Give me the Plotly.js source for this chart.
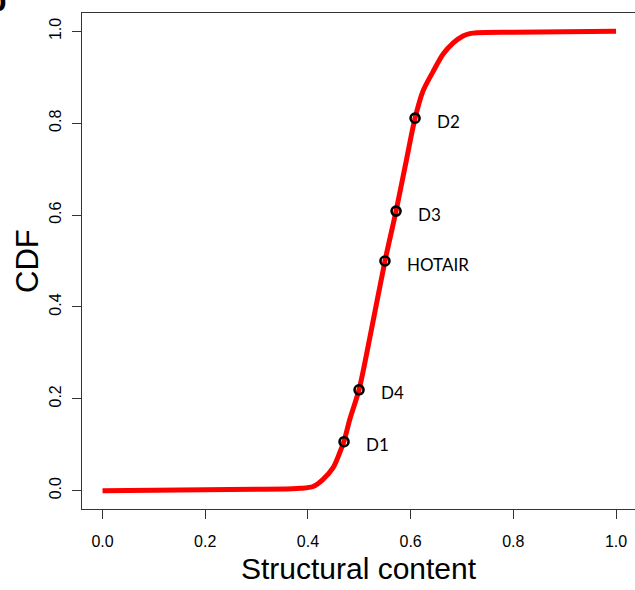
<!DOCTYPE html>
<html>
<head>
<meta charset="utf-8">
<script src="https://cdn.plot.ly/plotly-3.0.1.min.js"></script>
<style>html,body{margin:0;padding:0;background:#fff;}</style>
</head>
<body>
<div id="chart" style="width:635px;height:590px;"></div>
<script>
// CDF curve of structural content
const curveX = [0, 0.1, 0.2, 0.3, 0.37, 0.385, 0.41, 0.429, 0.449, 0.462, 0.470, 0.482, 0.4995, 0.52, 0.55, 0.5716, 0.59, 0.6086, 0.624, 0.644, 0.663, 0.683, 0.702, 0.715, 0.729, 0.8, 0.9, 1.0];
const curveY = [0, 0.001, 0.002, 0.003, 0.004, 0.005, 0.009, 0.024, 0.050, 0.083, 0.107, 0.157, 0.22, 0.33, 0.5, 0.609, 0.71, 0.811, 0.870, 0.913, 0.950, 0.975, 0.990, 0.995, 0.997, 0.998, 0.999, 1.0];

// highlighted RNAs
const pointNames = ["D2", "D3", "HOTAIR", "D4", "D1"];
const pointX = [0.6086, 0.5716, 0.550, 0.4995, 0.4703];
const pointY = [0.811, 0.6087, 0.5, 0.2196, 0.1065];

const xTicks = [0, 0.2, 0.4, 0.6, 0.8, 1.0];
const xTickText = ["0.0", "0.2", "0.4", "0.6", "0.8", "1.0"];
const yTicks = [0, 0.2, 0.4, 0.6, 0.8, 1.0];
const yTickText = ["0.0", "0.2", "0.4", "0.6", "0.8", "1.0"];

const xTitle = "Structural content";
const yTitle = "CDF";

const traces = [
  {
    x: curveX, y: curveY, type: "scatter", mode: "lines",
    line: {color: "#ff0000", width: 5, shape: "spline", smoothing: 0.8},
    hoverinfo: "skip", showlegend: false
  },
  {
    x: pointX, y: pointY, type: "scatter", mode: "markers",
    marker: {symbol: "circle-open", size: 9, color: "#000000", line: {width: 2.6, color: "#000000"}},
    text: pointNames, showlegend: false
  }
];

const annotations = pointNames.map((n, i) => ({
  x: pointX[i], y: pointY[i], xref: "x", yref: "y",
  text: n, showarrow: false, xanchor: "left", yanchor: "middle",
  xshift: 20, yshift: -3,
  font: {family: "Lato, 'Open Sans', sans-serif", size: 17, color: "#000"}
}));

// y axis title
annotations.push({
  xref: "paper", yref: "paper", x: -0.0995, y: 0.5, xanchor: "center", yanchor: "middle",
  textangle: -90, text: yTitle, showarrow: false,
  font: {family: "Liberation Sans, Arial, sans-serif", size: 31, color: "#000"}
});

// panel letter (cut off at the top-left corner)
annotations.push({
  xref: "paper", yref: "paper", x: -0.132, y: 1.0, xanchor: "right", yanchor: "bottom",
  yshift: -7,
  text: "<b>b</b>", showarrow: false,
  font: {family: "Liberation Sans, Arial, sans-serif", size: 32, color: "#000"}
});

const axisCommon = {
  showgrid: false, zeroline: false, showline: true, linecolor: "#333", linewidth: 1,
  ticks: "outside", ticklen: 9, tickcolor: "#333", tickwidth: 1,
  tickfont: {family: "Liberation Sans, Arial, sans-serif", size: 16, color: "#000"}
};

const layout = {
  width: 635, height: 590,
  margin: {l: 82, r: 0, t: 13, b: 81},
  paper_bgcolor: "#fff", plot_bgcolor: "#fff",
  xaxis: Object.assign({}, axisCommon, {
    range: [-0.04, 1.0369], mirror: true,
    tickvals: xTicks, ticktext: xTickText, ticklabelstandoff: 9,
    title: {text: xTitle, standoff: 8,
      font: {family: "Liberation Sans, Arial, sans-serif", size: 30, color: "#000"}}
  }),
  yaxis: Object.assign({}, axisCommon, {
    range: [-0.04, 1.04], mirror: false,
    tickvals: yTicks, ticktext: yTickText, tickangle: -90, ticklabelstandoff: 5
  }),
  annotations: annotations
};

Plotly.newPlot("chart", traces, layout, {displayModeBar: false, staticPlot: true});
</script>
</body>
</html>
